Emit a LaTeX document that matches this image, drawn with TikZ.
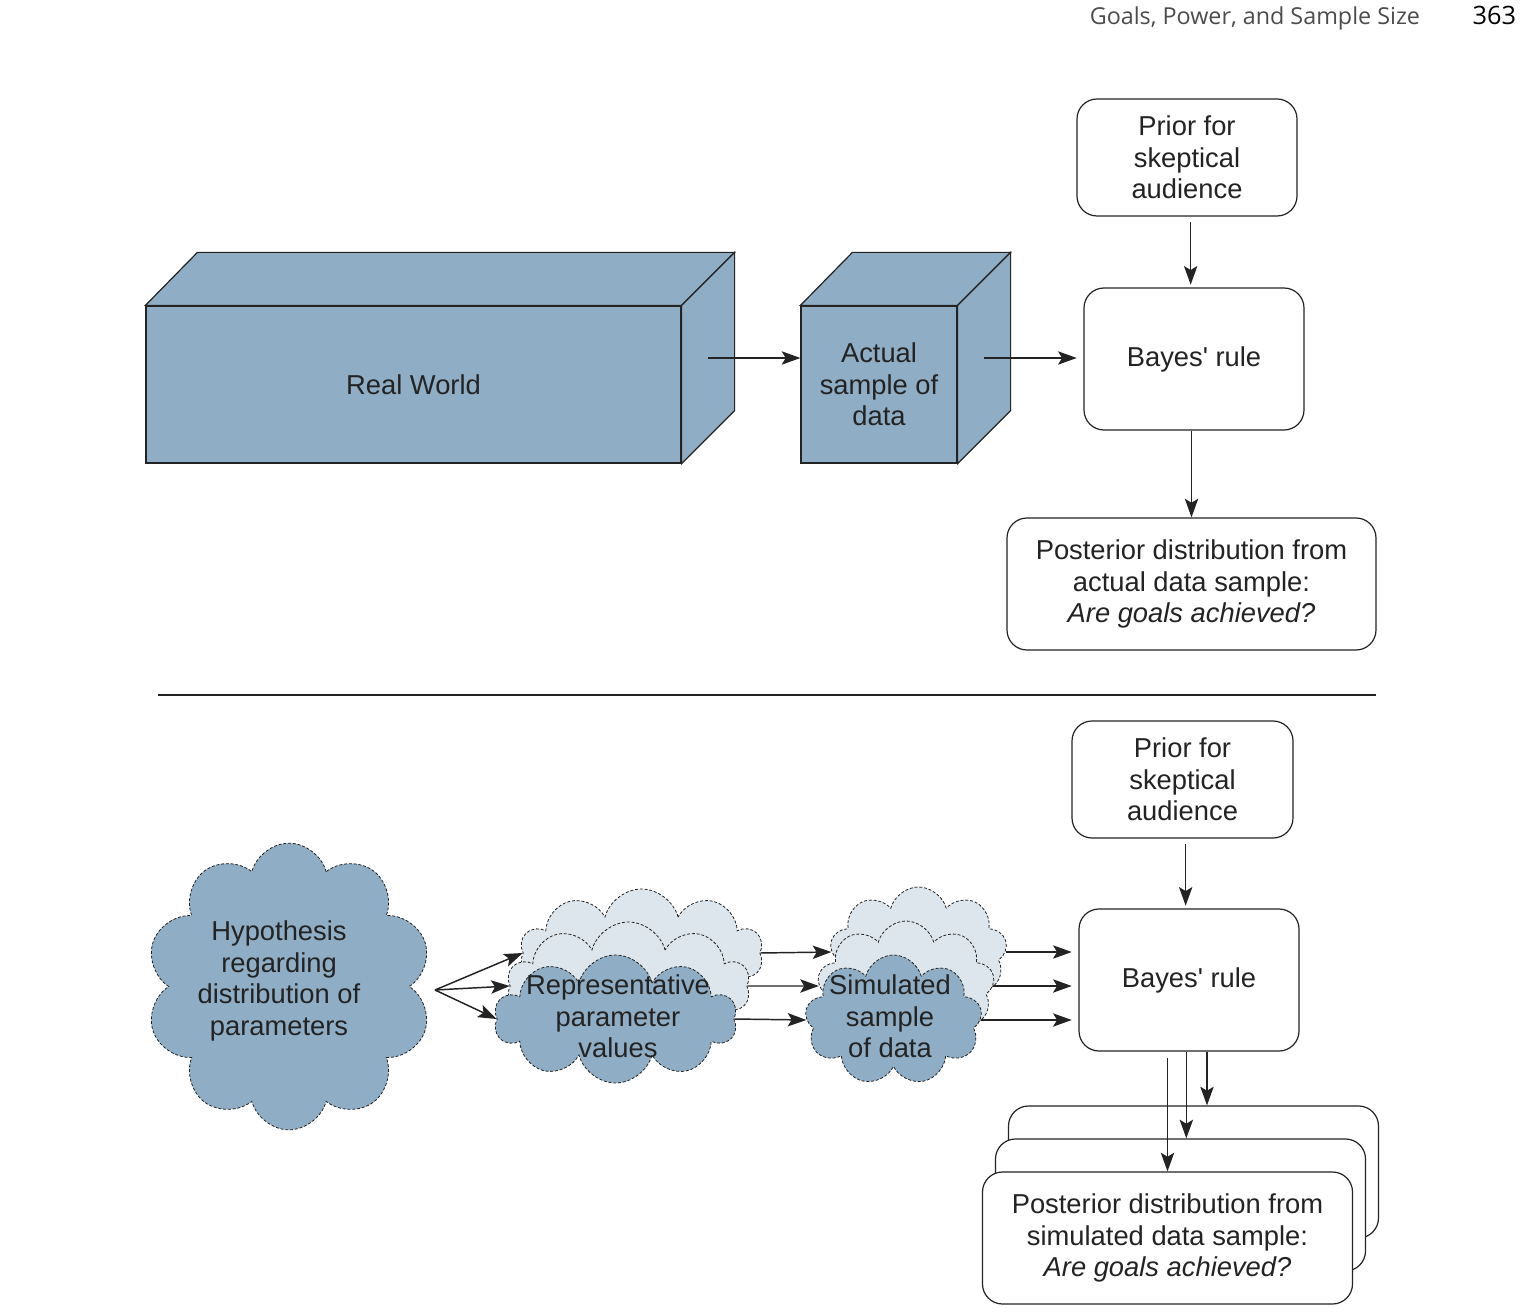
\documentclass[tikz,border=0pt]{standalone}
\usepackage{fontspec}
\setmainfont{Liberation Sans}[Ligatures=TeXOff]
\newfontfamily\headfont{Open Sans}
\usetikzlibrary{shapes.symbols,arrows.meta,calc}

\definecolor{cubeblue}{RGB}{143,173,196}
\definecolor{cloudpale}{RGB}{221,230,236}
\definecolor{inkgray}{RGB}{35,35,35}

\tikzset{every picture/.style={line width=0.75pt}}
\tikzset{
  txt/.style={align=center,font=\fontsize{20.5}{23.6}\selectfont,text=inkgray},
  roundbox/.style={draw=inkgray,fill=white,rounded corners=15pt,line width=0.9pt},
  cubeface/.style={draw=inkgray,fill=cubeblue,line width=0.9pt},
  puff/.style={cloud,cloud puffs=#1,cloud ignores aspect,draw=inkgray,dash pattern=on 2.2pt off 1.4pt,line width=0.6pt,inner sep=0pt},
  bluepuff/.style={puff=#1,fill=cubeblue},
  palepuff/.style={puff=#1,fill=cloudpale},
  arr/.style={-{Stealth[length=14pt,width=10pt,inset=3pt]},line width=1.1pt,draw=inkgray}
}

\begin{document}
\begin{tikzpicture}[x=0.75pt,y=0.75pt,yscale=-1,xscale=1]
\useasboundingbox (0,0) rectangle (1522,1316);

% Text Node
\node (runhead) [anchor=base east,font=\headfont\fontsize{17.5}{21}\selectfont,text=black!70] at (1425,25) {Goals, Power, and Sample Size};
% Text Node
\node (pageno) [anchor=base east,font=\headfont\fontsize{19}{22}\selectfont] at (1521,25) {363};

%Shape: Cuboid [id:rw]
\node (rw) [cubeface,txt,minimum width=401.25pt,minimum height=117.75pt] at (413.5,384.5) {Real World};
\draw [cubeface] (rw.north west) -- ++(52,-53) -- ($(rw.north east)+(53,-53)$) -- (rw.north east) -- cycle ;
\draw [cubeface] (rw.north east) -- ++(53,-53) -- ($(rw.south east)+(53,-53)$) -- (rw.south east) -- cycle ;
\coordinate (rwside) at ($(rw.east)+(26.5,-26.5)$);
%Shape: Cuboid [id:as]
\node (as) [cubeface,txt,minimum width=117pt,minimum height=117.75pt] at (879,384.5) {Actual\\sample of\\data};
\draw [cubeface] (as.north west) -- ++(52,-53) -- ($(as.north east)+(53,-53)$) -- (as.north east) -- cycle ;
\draw [cubeface] (as.north east) -- ++(53,-53) -- ($(as.south east)+(53,-53)$) -- (as.south east) -- cycle ;
\coordinate (asside) at ($(as.east)+(26.5,-26.5)$);

%Shape: Rounded Rect [id:prior1]
\node (prior1) [roundbox,txt,minimum width=165pt,minimum height=87.75pt] at (1187,157.5) {Prior for\\skeptical\\audience};
%Shape: Rounded Rect [id:bayes1]
\node (bayes1) [roundbox,txt,minimum width=165pt,minimum height=106.5pt] at (1194,359) {Bayes' rule};
%Shape: Rounded Rect [id:post1]
\node (post1) [roundbox,txt,minimum width=276.75pt,minimum height=99pt] at (1191.5,584) {Posterior distribution from\\actual data sample:\\\textit{Are goals achieved?}};

%Straight Lines
\draw [arr] (rwside) -- (as.west |- rwside) ;
\draw [arr,shorten >=5pt] (asside) -- (bayes1.west |- asside) ;
\draw [arr,shorten <=4pt,shorten >=2pt] ([xshift=-2.5pt]bayes1.north |- prior1.south) -- ([xshift=-2.5pt]bayes1.north) ;
\draw [arr] (post1.north |- bayes1.south) -- (post1.north) ;

%Straight Lines [id:separator]
\draw [inkgray,line width=0.8pt] (158,695) -- (1376,695) ;

%Shape: Cloud [id:hyp]
\node (hyp) [bluepuff=10,minimum width=214.5pt,minimum height=215pt] at (289,986.5) {};
\coordinate (hypout) at ($(hyp.center)+(146,3.5)$);
% Text Node
\node (hyptxt) [txt] at (279,981) {Hypothesis\\regarding\\distribution of\\parameters};
%Shape: Cloud stack [id:rep]
\node (rep3) [palepuff=10,minimum width=182.25pt,minimum height=96pt] at (641.5,953) {};
\node (rep2) [palepuff=10,minimum width=182.25pt,minimum height=96pt] at (628.5,986) {};
\node (rep1) [bluepuff=10,minimum width=182.25pt,minimum height=96pt] at (615.5,1019) {};
% Text Node
\node (reptxt) [txt] at (618,1016.5) {Representative\\parameter\\values};
%Shape: Cloud stack [id:sim]
\node (sim3) [palepuff=9,minimum width=132.75pt,minimum height=97.5pt] at (918.5,952) {};
\node (sim2) [palepuff=9,minimum width=132.75pt,minimum height=97.5pt] at (906,986) {};
\node (sim1) [bluepuff=9,minimum width=132.75pt,minimum height=97.5pt] at (893.5,1020) {};
% Text Node
\node (simtxt) [txt] at (890,1016.5) {Simulated\\sample\\of data};

%Shape: Rounded Rect [id:prior2]
\node (prior2) [roundbox,txt,minimum width=165.75pt,minimum height=87.75pt] at (1182.5,779.5) {Prior for\\skeptical\\audience};
%Shape: Rounded Rect [id:bayes2]
\node (bayes2) [roundbox,txt,minimum width=165pt,minimum height=106.5pt] at (1189,980) {Bayes' rule};
%Shape: Rounded Rect stack [id:post2]
\node (post2c) [roundbox,minimum width=277.5pt,minimum height=99pt] at (1193.5,1172) {};
\node (post2b) [roundbox,minimum width=277.5pt,minimum height=99pt] at (1180.5,1205) {};
\node (post2a) [roundbox,txt,minimum width=277.5pt,minimum height=99pt] at (1167.5,1238) {Posterior distribution from\\simulated data sample:\\\textit{Are goals achieved?}};

%Straight Lines
\draw [arr] (hypout) -- (rep3.west) ;
\draw [arr] (hypout) -- (rep2.west) ;
\draw [arr] (hypout) -- (rep1.west) ;
\draw [arr] (rep3.east) -- (sim3.west) ;
\draw [arr] (rep2.east) -- (sim2.west) ;
\draw [arr] (rep1.east) -- (sim1.west) ;
\draw [arr,shorten >=5pt] (sim3.east) -- (sim3.east -| bayes2.west) ;
\draw [arr,shorten >=5pt] (sim2.east) -- (sim2.east -| bayes2.west) ;
\draw [arr,shorten >=5pt] (sim1.east) -- (sim1.east -| bayes2.west) ;
\draw [arr,shorten <=4pt,shorten >=2pt] ([xshift=-2.5pt]bayes2.north |- prior2.south) -- ([xshift=-2.5pt]bayes2.north) ;
\draw [arr,shorten <=5pt] (post2a.north |- bayes2.south) -- (post2a.north) ;
\draw [arr] ([xshift=-2pt]bayes2.south) -- ([xshift=-2pt]bayes2.south |- post2b.north) ;
\draw [arr] ([xshift=13.5pt]bayes2.south) -- ([xshift=13.5pt]bayes2.south |- post2c.north) ;

\end{tikzpicture}
\end{document}
